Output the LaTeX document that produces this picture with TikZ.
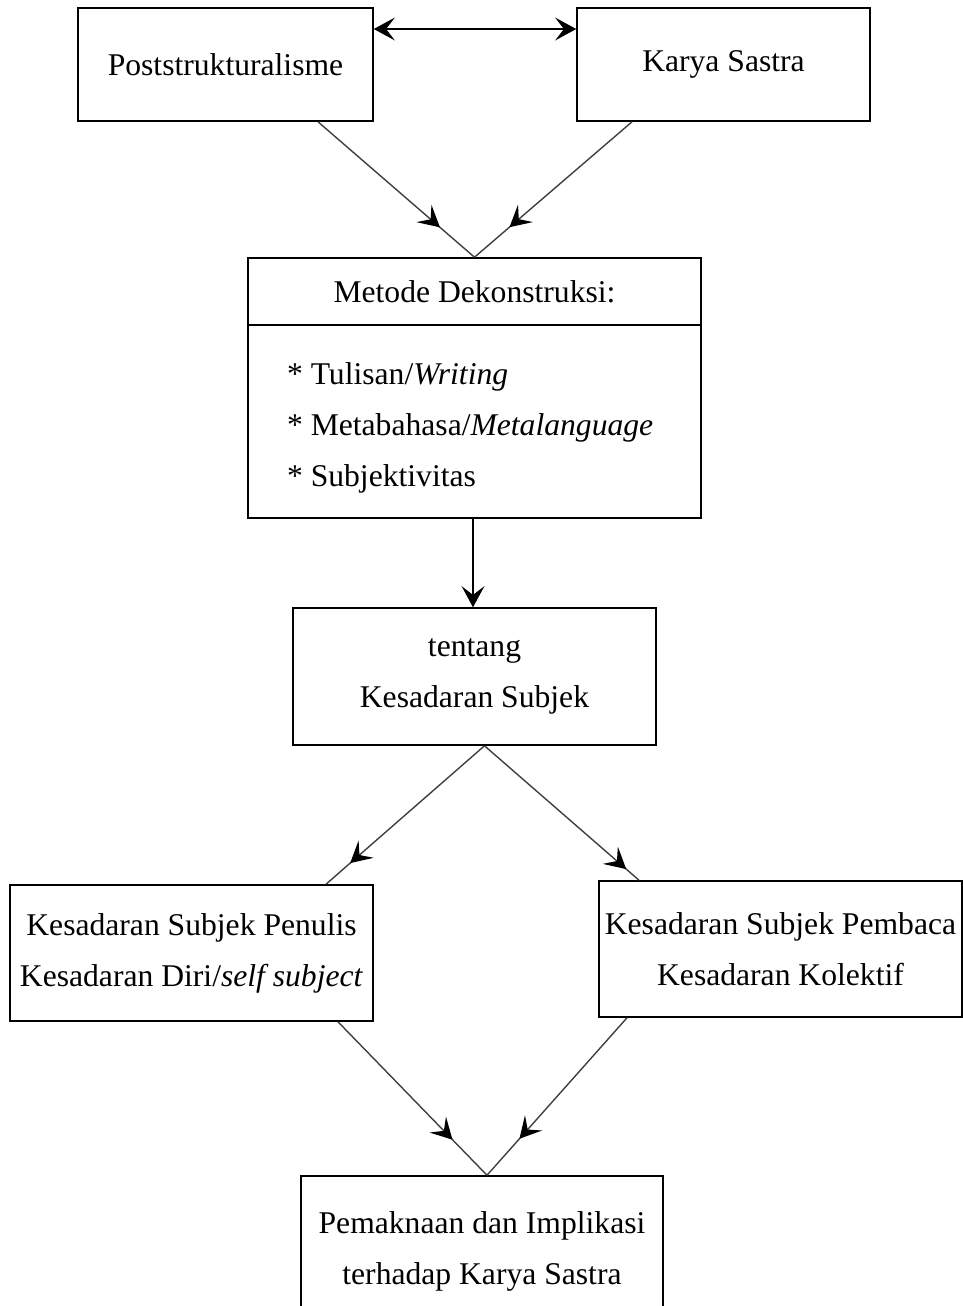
\documentclass[tikz,border=0pt]{standalone}
\usepackage{fontspec}
\setmainfont{Liberation Serif}
\usetikzlibrary{arrows.meta, decorations.markings}

\tikzset{
  box/.style={draw, line width=0.9pt, rectangle, align=center, inner sep=0pt},
  barb/.tip={Stealth[length=12pt, width=13pt, inset=5pt]},
  link/.style={draw=black!75, line width=0.8pt},
  midtip/.style={link, decoration={markings, mark=at position #1 with {\arrow[black]{barb}}}, postaction=decorate}
}

\begin{document}
\begin{tikzpicture}[x=0.02cm, y=-0.02cm, font=\fontsize{18}{29}\selectfont]
  \useasboundingbox (0,0) rectangle (963,1306);

  % top row
  \node [box, minimum width=5.9cm, minimum height=2.26cm] (post) at (225.5,64.5) {Poststrukturalisme};
  \node [box, minimum width=5.86cm, minimum height=2.26cm] (karya) at (723.5,64.5) {Karya Sastra};

  % deconstruction method
  \node [box, minimum width=9.06cm, minimum height=1.34cm] (metode) at (474.5,291.5) {Metode Dekonstruksi:};
  \node [box, minimum width=9.06cm, minimum height=3.86cm, align=left] (items) at (474.5,421.5)
    {\parbox{7.5cm}{\vspace{0.24cm}{*} Tulisan/\textit{Writing}\\ {*} Metabahasa/\textit{Metalanguage}\\ {*} Subjektivitas}};

  \node [box, minimum width=7.26cm, minimum height=2.74cm] (tentang) at (474.5,676.5) {tentang\\ Kesadaran Subjek};

  % two kinds of awareness
  \node [box, minimum width=7.26cm, minimum height=2.72cm] (penulis) at (191.5,953) {Kesadaran Subjek Penulis\\ Kesadaran Diri/\textit{self subject}};
  \node [box, minimum width=7.26cm, minimum height=2.72cm] (pembaca) at (780.5,949) {Kesadaran Subjek Pembaca\\ Kesadaran Kolektif};

  \node [box, minimum width=7.24cm, minimum height=3cm] (makna) at (482,1251) {Pemaknaan dan Implikasi\\ terhadap Karya Sastra};

  % connectors
  \draw [line width=1.1pt, barb-barb] ([yshift=0.71cm]post.east) -- ([yshift=0.71cm]karya.west);

  \path [midtip=0.78] ([xshift=1.85cm]post.south) -- (metode.north);
  \path [midtip=0.78] ([xshift=-1.83cm]karya.south) -- (metode.north);

  \draw [line width=1.1pt, -barb] ([xshift=-0.03cm]items.south) -- ([xshift=-0.03cm]tentang.north);

  \path [midtip=0.85] ([xshift=0.2cm]tentang.south) -- ([xshift=2.69cm]penulis.north);
  \path [midtip=0.92] ([xshift=0.2cm]tentang.south) -- ([xshift=-2.83cm]pembaca.north);

  \path [midtip=0.77] ([xshift=2.93cm]penulis.south) -- ([xshift=0.1cm]makna.north);
  \path [midtip=0.77] ([xshift=-3.07cm]pembaca.south) -- ([xshift=0.1cm]makna.north);
\end{tikzpicture}
\end{document}
